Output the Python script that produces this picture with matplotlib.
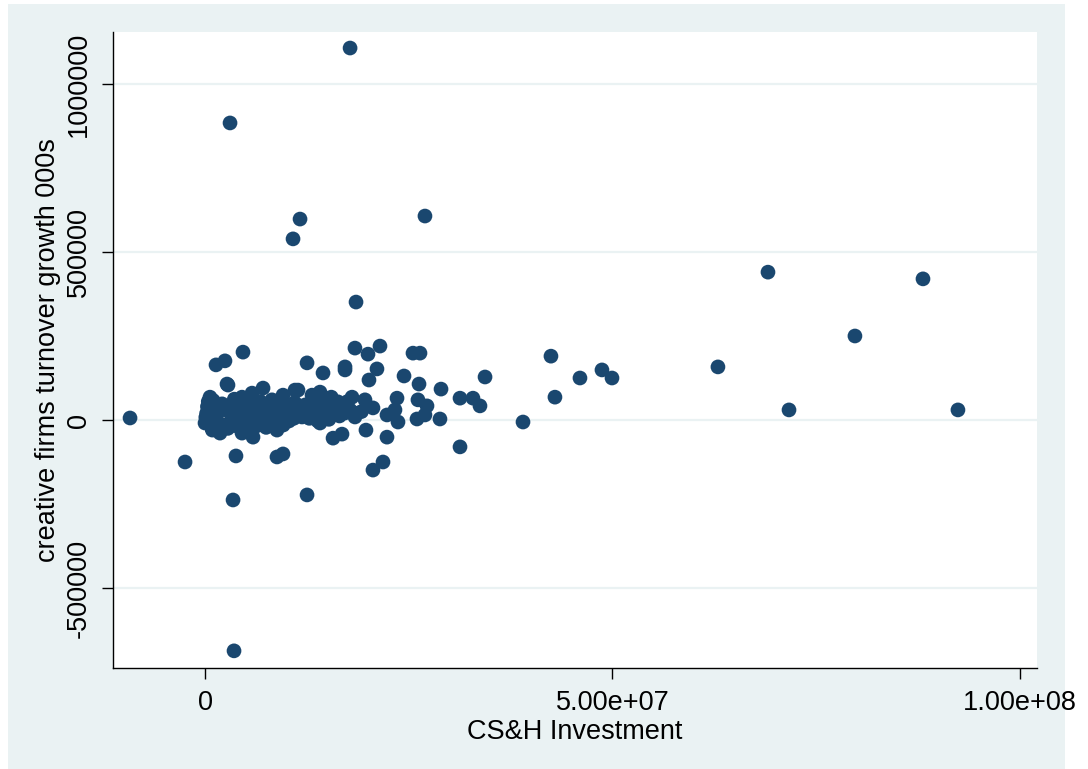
import matplotlib
matplotlib.use("Agg")
import matplotlib.pyplot as plt
from matplotlib.patches import Rectangle

plt.rcParams['font.family'] = ['Liberation Sans', 'DejaVu Sans']

# CS&H investment (millions) and creative firms turnover growth (thousands of 000s)
invest_m = [
    -9.2, -2.45, 3.07, 17.8, 11.66, 10.80, 26.99, 18.53, 3.44, 3.56, 3.80, 12.52, 8.83, 9.57,
    69.08, 88.10, 79.75, 62.94, 71.66, 92.39, 42.45, 46.01, 48.71, 49.94, 42.94, 39.02, 31.29,
    34.36, 31.29, 32.88, 33.74, 28.96, 28.83, 25.52, 26.38, 24.42, 26.26, 21.47, 18.40, 20.0,
    21.10, 20.12, 17.18, 12.52, 14.48, 4.66, 2.45, 1.35, 2.82, 20.61, 21.84, 22.33, 19.75,
    15.71, 16.81, 19.63, 20.61, 26.01, 26.99, 26.13, 27.24, 23.56, 23.31, 22.33, 23.68,
    17.18, 11.41, 14.11, 13.13, 16.32, 18.04, 15.09, 13.50, 11.90, 14.11, 17.18, 18.40,
    2.70, 7.12, 5.77, 9.57, 11.04, 0.61, 4.54, 8.22, 1.84, 4.54, 5.89, 8.83, 0.0,
    0.3, 1.2, 2.1, 3.3, 4.1, 5.2, 6.0, 7.2, 8.0, 9.1, 10.1, 11.0,
    0.5, 1.4, 2.3, 3.0, 4.3, 5.0, 6.3, 7.0, 8.3, 9.2, 10.3, 11.2,
    0.2, 1.0, 2.5, 3.6, 4.8, 5.6, 6.8, 7.7, 8.8, 9.8, 10.7, 11.5,
    0.8, 1.7, 2.8, 3.9, 4.6, 5.5, 6.6, 7.5, 8.6, 9.6, 10.5, 12.0,
    12.3, 13.5, 14.7, 15.8, 16.9, 12.8, 14.0, 15.2, 16.5, 17.8, 18.6, 13.2, 15.5, 17.5,
    0.1, 0.9, 1.9, 3.5, 6.4, 12.6, 14.3, 16.0, 19.2, 10.9, 13.8, 0.4,
]
growth_k = [
    6, -125, 884, 1107, 598, 539, 607, 351, -238, -687, -107, -223, -110, -101,
    440, 420, 250, 158, 30, 30, 190, 125, 149, 125, 68, -6, -80,
    128, 65, 65, 42, 92, 3, 199, 199, 131, 107, 220, 214, 196,
    152, 119, 158, 170, 140, 202, 176, 164, 104, -149, -125, -51, -30,
    -54, -42, 60, 36, 3, 15, 60, 42, 65, 30, 15, -6,
    149, 89, 83, 74, 54, 68, 39, 21, 9, -9, 21, 9,
    107, 95, 80, 74, 89, 68, 68, 60, -39, -39, -51, -30, -9,
    40, 22, 48, 5, 30, 50, 18, 38, 10, 44, 25, 52,
    -5, 12, -15, 28, -8, 10, -18, 6, -12, 15, -3, 30,
    20, 58, 30, 62, 22, 35, 55, 28, 30, 50, 12, 40,
    -22, -12, -25, -18, -20, -28, -5, -22, -8, -15, 20, 18,
    45, 35, 50, 28, 40, 5, 15, 2, 12, 30, 20, 60, 68, 55,
    8, -30, 35, 15, -10, 28, 38, 48, 25, 5, -2, 55,
]

x_ticks = [0, 5e7, 1e8]
x_ticklabels = ["0", "5.00e+07", "1.00e+08"]
y_ticks = [-500000, 0, 500000, 1000000]
y_ticklabels = ["-500000", "0", "500000", "1000000"]

x = [v * 1e6 for v in invest_m]
y = [v * 1e3 for v in growth_k]

W, H = 1088, 769
fig = plt.figure(figsize=(W / 100, H / 100), dpi=100, facecolor="white")
fig.patches.append(Rectangle((8 / W, 0), (1065 - 8) / W, (H - 4) / H,
                             transform=fig.transFigure, facecolor="#EAF2F3",
                             edgecolor="none", zorder=-10))

ax = fig.add_axes([113 / W, (H - 668) / H, (1037 - 113) / W, (668 - 32) / H])
ax.set_zorder(1)
ax.set_facecolor("white")
ax.scatter(x, y, s=112, color="#1A476F", edgecolors="none", zorder=3)

ax.set_xlim(-11.29e6, 102.09e6)
ax.set_ylim(-738048, 1154688)

ax.set_xticks(x_ticks)
ax.set_xticklabels(x_ticklabels)
ax.set_yticks(y_ticks)
ax.set_yticklabels(y_ticklabels, rotation=90, va="center")

for yt in y_ticks:
    ax.axhline(yt, color="#EAF2F3", lw=1.6, zorder=1)

ax.tick_params(axis="both", length=8, width=1, color="black", labelsize=19.5,
               labelcolor="black")
ax.tick_params(axis="x", pad=8)
ax.tick_params(axis="y", pad=7)

ax.set_xlabel("CS&H Investment", fontsize=19.5, labelpad=2)
ax.set_ylabel("creative firms turnover growth 000s", fontsize=19.5, labelpad=4)

for side in ["top", "right"]:
    ax.spines[side].set_visible(False)
for side in ["left", "bottom"]:
    ax.spines[side].set_color("black")
    ax.spines[side].set_linewidth(1.0)

fig.savefig("out.png", dpi=100, facecolor=fig.get_facecolor())
